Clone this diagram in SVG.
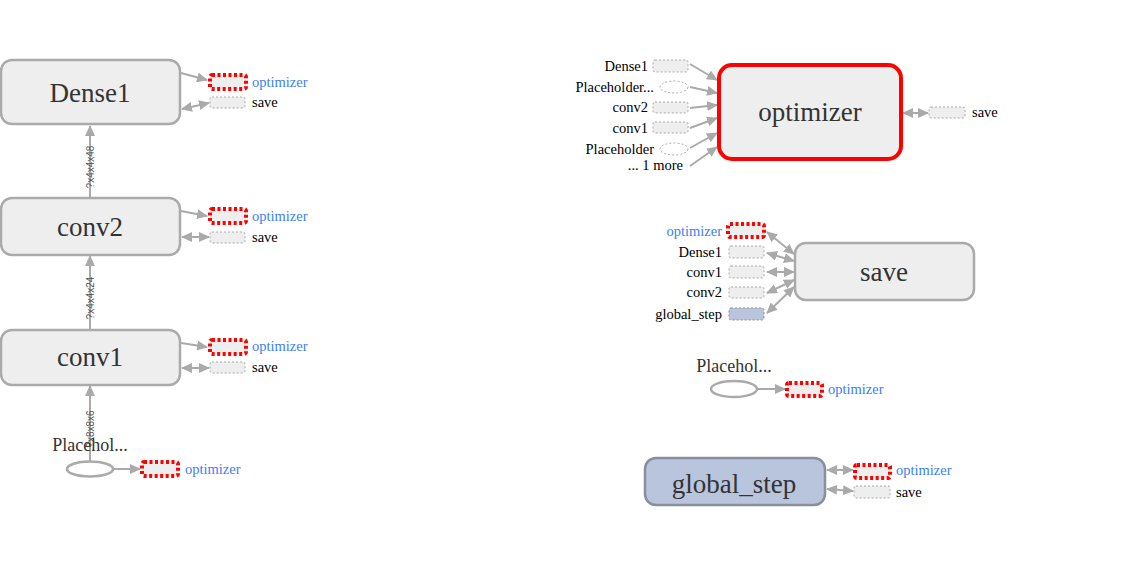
<svg xmlns="http://www.w3.org/2000/svg" width="1122" height="567" viewBox="0 0 1122 567">
<defs>
<marker id="ah" markerUnits="userSpaceOnUse" markerWidth="11" markerHeight="10" refX="10" refY="5" orient="auto"><path d="M0,0 L11,5 L0,10 z" fill="#aaa"/></marker>
<marker id="at" markerUnits="userSpaceOnUse" markerWidth="11" markerHeight="10" refX="1" refY="5" orient="auto"><path d="M11,0 L0,5 L11,10 z" fill="#aaa"/></marker>
</defs>
<style>
.big{fill:#eee;stroke:#aaa;stroke-width:2.5}
.bt{font-family:"Liberation Serif","Times New Roman",serif;font-size:27px;fill:#333;text-anchor:middle}
.opt{fill:#eee;stroke:#f00;stroke-width:4;stroke-dasharray:3,2.5}
.ph{fill:#eee;stroke:#aaa;stroke-width:1;stroke-dasharray:2,2}
.pe{fill:#fff;stroke:#aaa;stroke-width:1;stroke-dasharray:2,2}
.lb{font-family:"Liberation Serif","Times New Roman",serif;font-size:14.5px;fill:#000}
.lbb{font-family:"Liberation Serif","Times New Roman",serif;font-size:14.5px;fill:#3c7ff0}
.lbr{font-family:"Liberation Serif","Times New Roman",serif;font-size:14.5px;fill:#000;text-anchor:end}
.e{stroke:#aaa;stroke-width:2;fill:none;marker-end:url(#ah)}
.e2{stroke:#aaa;stroke-width:2;fill:none;marker-end:url(#ah);marker-start:url(#at)}
.el{font-family:"Liberation Sans",sans-serif;font-size:10px;fill:#555;text-anchor:middle}
.pt{font-family:"Liberation Serif","Times New Roman",serif;font-size:18px;fill:#333;text-anchor:middle}
</style>
<g id="connectors">
<line class="e" x1="90" y1="198" x2="90" y2="126"/>
<line class="e" x1="90" y1="330" x2="90" y2="256"/>
<line class="e" x1="90" y1="461" x2="90" y2="386"/>
<line class="e" x1="181" y1="73" x2="207" y2="80"/>
<line class="e2" x1="182" y1="109" x2="209" y2="103"/>
<line class="e" x1="181" y1="211" x2="207" y2="216"/>
<line class="e2" x1="182" y1="237" x2="209" y2="237"/>
<line class="e" x1="181" y1="343" x2="207" y2="347"/>
<line class="e2" x1="182" y1="368" x2="209" y2="368"/>
<line class="e" x1="113" y1="469" x2="140" y2="469"/>
<line class="e" x1="690" y1="64" x2="717" y2="80"/>
<line class="e" x1="690" y1="87" x2="717" y2="93"/>
<line class="e" x1="690" y1="108" x2="717" y2="105"/>
<line class="e" x1="690" y1="128" x2="717" y2="118"/>
<line class="e" x1="690" y1="148" x2="717" y2="133"/>
<line class="e" x1="690" y1="166" x2="717" y2="147"/>
<line class="e2" x1="903" y1="113" x2="928" y2="113"/>
<line class="e2" x1="767" y1="232" x2="794" y2="254"/>
<line class="e2" x1="767" y1="253" x2="794" y2="261"/>
<line class="e2" x1="767" y1="272" x2="794" y2="272"/>
<line class="e2" x1="767" y1="293" x2="794" y2="280"/>
<line class="e2" x1="767" y1="313" x2="794" y2="287"/>
<line class="e" x1="757" y1="389" x2="785" y2="389"/>
<line class="e2" x1="827" y1="470" x2="853" y2="470"/>
<line class="e2" x1="827" y1="489" x2="853" y2="491"/>
<text class="el" transform="translate(93.5,167) rotate(-90)">?x4x4x48</text>
<text class="el" transform="translate(93.5,298) rotate(-90)">?x4x4x24</text>
<text class="el" transform="translate(93.5,429) rotate(-90)">?x8x8x6</text>
</g>
<g id="Dense1">
<rect class="big" x="1" y="60" width="179" height="64" rx="11"/>
<text class="bt" x="90" y="102">Dense1</text>
<rect class="opt" x="210" y="75" width="36" height="14" rx="2"/>
<text class="lbb" x="252" y="87">optimizer</text>
<rect class="ph" x="210" y="97" width="35" height="11" rx="2"/>
<text class="lb" x="252" y="107">save</text>
</g>
<g id="conv2">
<rect class="big" x="1" y="198" width="179" height="57" rx="11"/>
<text class="bt" x="90" y="236">conv2</text>
<rect class="opt" x="210" y="209" width="36" height="14" rx="2"/>
<text class="lbb" x="252" y="221">optimizer</text>
<rect class="ph" x="210" y="232" width="35" height="11" rx="2"/>
<text class="lb" x="252" y="242">save</text>
</g>
<g id="conv1">
<rect class="big" x="1" y="330" width="179" height="55" rx="11"/>
<text class="bt" x="90" y="366">conv1</text>
<rect class="opt" x="210" y="340" width="36" height="14" rx="2"/>
<text class="lbb" x="252" y="351">optimizer</text>
<rect class="ph" x="210" y="362" width="35" height="11" rx="2"/>
<text class="lb" x="252" y="372">save</text>
</g>
<g id="Placeholder_left">
<text class="pt" x="90" y="451">Placehol...</text>
<ellipse cx="90" cy="469" rx="23" ry="7.5" fill="#fff" stroke="#aaa" stroke-width="2.5"/>
<rect class="opt" x="142" y="462" width="36" height="14" rx="2"/>
<text class="lbb" x="185" y="474">optimizer</text>
</g>
<g id="optimizer">
<rect x="719" y="65" width="182" height="94" rx="13" fill="#eee" stroke="#f00" stroke-width="4"/>
<text class="bt" x="810" y="121">optimizer</text>
<rect class="ph" x="653" y="60" width="35" height="12" rx="2"/>
<text class="lbr" x="648" y="71">Dense1</text>
<ellipse class="pe" cx="674" cy="87" rx="14" ry="6"/>
<text class="lbr" x="654" y="92">Placeholder...</text>
<rect class="ph" x="653" y="102" width="35" height="11" rx="2"/>
<text class="lbr" x="648" y="112">conv2</text>
<rect class="ph" x="653" y="122" width="35" height="11" rx="2"/>
<text class="lbr" x="648" y="133">conv1</text>
<ellipse class="pe" cx="674" cy="149" rx="14" ry="6"/>
<text class="lbr" x="654" y="154">Placeholder</text>
<text class="lbr" x="683" y="170">... 1 more</text>
<rect class="ph" x="929" y="107" width="36" height="11" rx="2"/>
<text class="lb" x="972" y="117">save</text>
</g>
<g id="save">
<rect class="big" x="795" y="243" width="179" height="57" rx="11"/>
<text class="bt" x="884" y="281">save</text>
<rect class="opt" x="728" y="224" width="36" height="13" rx="2"/>
<text class="lbb" x="722" y="236" text-anchor="end">optimizer</text>
<rect class="ph" x="729" y="246" width="35" height="12" rx="2"/>
<text class="lbr" x="722" y="257">Dense1</text>
<rect class="ph" x="729" y="266" width="35" height="12" rx="2"/>
<text class="lbr" x="722" y="277">conv1</text>
<rect class="ph" x="729" y="287" width="35" height="11" rx="2"/>
<text class="lbr" x="722" y="297">conv2</text>
<rect x="729" y="308" width="35" height="12" rx="2" fill="#b9c5dd" stroke="#888" stroke-width="1" stroke-dasharray="2,2"/>
<text class="lbr" x="722" y="319">global_step</text>
</g>
<g id="Placeholder_right">
<text class="pt" x="734" y="372">Placehol...</text>
<ellipse cx="734" cy="389" rx="23" ry="8" fill="#fff" stroke="#aaa" stroke-width="2.5"/>
<rect class="opt" x="787" y="383" width="35" height="13" rx="2"/>
<text class="lbb" x="828" y="394">optimizer</text>
</g>
<g id="global_step">
<rect x="645" y="458" width="180" height="47" rx="11" fill="#b9c5dd" stroke="#888f9d" stroke-width="2.5"/>
<text class="bt" x="734" y="493">global_step</text>
<rect class="opt" x="855" y="465" width="35" height="13" rx="2"/>
<text class="lbb" x="896" y="475">optimizer</text>
<rect class="ph" x="854" y="486" width="36" height="12" rx="2"/>
<text class="lb" x="896" y="497">save</text>
</g>
</svg>
